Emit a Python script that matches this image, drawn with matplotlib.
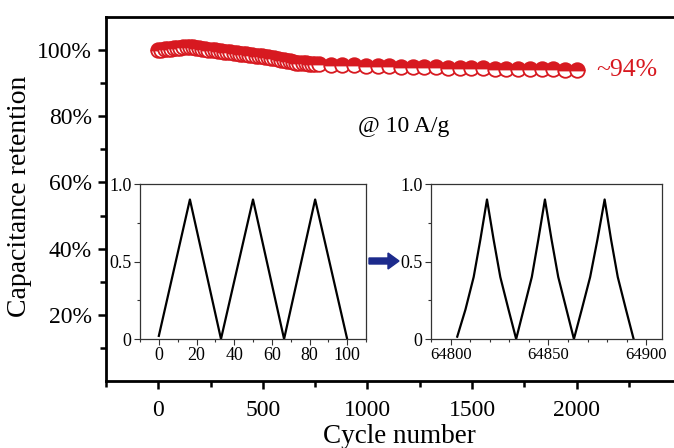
import matplotlib.pyplot as plt
from matplotlib.patches import FancyArrow
from matplotlib.ticker import MultipleLocator, FixedLocator

plt.rcParams['font.family'] = ['Liberation Serif', 'DejaVu Serif']

RED = '#d71920'
NAVY = '#1c2a8c'

# cycling stability, retention in %
cycles = [0, 15, 30, 45, 60, 75, 90, 105, 120, 135, 150, 165, 180, 195, 210,
          225, 240, 255, 270, 285, 300, 315, 330, 345, 360, 375, 390, 405,
          420, 435, 450, 465, 480, 495, 510, 525, 540, 555, 570, 585, 600,
          615, 630, 645, 660, 675, 690, 705, 720, 735, 750,
          768, 824, 880, 936, 992, 1048, 1104, 1160, 1216, 1272, 1328, 1384,
          1440, 1496, 1552, 1608, 1664, 1720, 1776, 1832, 1888, 1944, 2000]
retention = [100.0, 100.1, 100.2, 100.3, 100.4, 100.5, 100.6, 100.7, 100.8,
             100.9, 101.0, 100.8, 100.6, 100.5, 100.4, 100.3, 100.1, 100.0,
             99.9, 99.8, 99.7, 99.5, 99.4, 99.3, 99.1, 99.0, 98.9, 98.8,
             98.7, 98.6, 98.5, 98.3, 98.2, 98.1, 97.9, 97.8, 97.6, 97.5,
             97.3, 97.1, 97.0, 96.8, 96.6, 96.4, 96.2, 96.1, 96.0, 96.0,
             95.9, 95.9, 95.8,
             95.7, 95.6, 95.5, 95.4, 95.3, 95.2, 95.1, 95.0, 94.9, 94.9,
             94.8, 94.7, 94.6, 94.5, 94.5, 94.4, 94.4, 94.3, 94.3, 94.2,
             94.2, 94.1, 94.1]

# first GCD cycles (time, potential)
t_first = [0, 16.5, 33, 50, 66.5, 83, 100]
v_first = [0.02, 0.9, 0.0, 0.9, 0.0, 0.9, 0.0]

# last GCD cycles (time, potential)
t_last = [64803.4, 64807.6, 64811.8, 64815.2, 64818.6,
          64822.0, 64825.4, 64829.6, 64833.5,
          64837.3, 64841.5, 64844.8, 64848.2,
          64851.6, 64855.0, 64859.2, 64863.0,
          64867.0, 64871.3, 64875.0, 64878.7,
          64882.0, 64885.4, 64889.6, 64893.5]
v_last = [0.015, 0.19, 0.40, 0.64, 0.9,
          0.64, 0.40, 0.19, 0.0,
          0.19, 0.40, 0.64, 0.9,
          0.64, 0.40, 0.19, 0.0,
          0.19, 0.40, 0.64, 0.9,
          0.64, 0.40, 0.19, 0.0]

W, H = 674, 448
fig = plt.figure(figsize=(W / 100, H / 100), dpi=100)

def box(x0, y0, x1, y1):
    # pixel box (top-left origin) -> figure fraction
    return [x0 / W, 1 - y1 / H, (x1 - x0) / W, (y1 - y0) / H]

ax = fig.add_axes(box(106, 17, 676, 381))
ax.plot(cycles, retention, 'o', ms=10.5, mew=1.3, mec=RED, mfc=RED,
        mfcalt='white', fillstyle='top', ls='none')
ax.set_xlim(-250, 2475)
ax.set_ylim(0, 110)
ax.xaxis.set_major_locator(FixedLocator([0, 500, 1000, 1500, 2000]))
ax.xaxis.set_minor_locator(FixedLocator([-250, 250, 750, 1250, 1750, 2250]))
ax.yaxis.set_major_locator(FixedLocator([20, 40, 60, 80, 100]))
ax.yaxis.set_minor_locator(FixedLocator([10, 30, 50, 70, 90]))
ax.set_yticklabels(['20%', '40%', '60%', '80%', '100%'])
ax.tick_params(which='both', direction='out', width=1.8, labelsize=17)
ax.tick_params(which='major', length=6)
ax.tick_params(which='minor', length=4)
ax.tick_params(axis='x', pad=8)
ax.tick_params(axis='y', pad=4)
for s in ['left', 'bottom', 'top']:
    ax.spines[s].set_linewidth(2)
ax.spines['right'].set_visible(False)
ax.set_xlabel('Cycle number', fontsize=19.5)
ax.xaxis.set_label_coords(0.514, -0.117)
ax.set_ylabel('Capacitance retention', fontsize=20)
ax.yaxis.set_label_coords(-0.13, 0.508)

ax.text(2095, 94.1, '~94%', color=RED, fontsize=18.5, va='center', ha='left')
ax.text(1171, 77, '@ 10 A/g', fontsize=17, ha='center', va='center')

# insets with charge/discharge curves
ins1 = fig.add_axes(box(140, 184, 366, 339))
ins1.plot(t_first, v_first, color='black', lw=1.6)
ins1.set_xlim(-10, 110)
ins1.set_ylim(0, 1.0)
ins1.xaxis.set_major_locator(MultipleLocator(20))
ins1.xaxis.set_minor_locator(MultipleLocator(10))
ins1.tick_params(axis='x', labelsize=13)

ins2 = fig.add_axes(box(431, 184, 662, 339))
ins2.plot(t_last, v_last, color='black', lw=1.6)
ins2.set_xlim(64790, 64908)
ins2.set_ylim(0, 1.0)
ins2.xaxis.set_major_locator(MultipleLocator(50))
ins2.xaxis.set_minor_locator(MultipleLocator(10))
ins2.tick_params(axis='x', labelsize=12)

for a in (ins1, ins2):
    a.yaxis.set_major_locator(FixedLocator([0, 0.5, 1.0]))
    a.yaxis.set_minor_locator(FixedLocator([0.25, 0.75]))
    a.set_yticklabels(['0', '0.5', '1.0'])
    a.tick_params(which='both', direction='out', width=0.8, pad=2,
                  color='#333333')
    a.tick_params(axis='y', labelsize=13)
    a.tick_params(which='major', length=4)
    a.tick_params(which='minor', length=2.5)
    for s in a.spines.values():
        s.set_linewidth(0.9)
        s.set_color('#333333')

fig.patches.append(FancyArrow(
    369 / W, 1 - 261 / H, 30 / W, 0, width=6 / H, head_width=16 / H,
    head_length=11 / W, length_includes_head=True, color=NAVY,
    transform=fig.transFigure, figure=fig))

fig.savefig('out.png', dpi=100)
